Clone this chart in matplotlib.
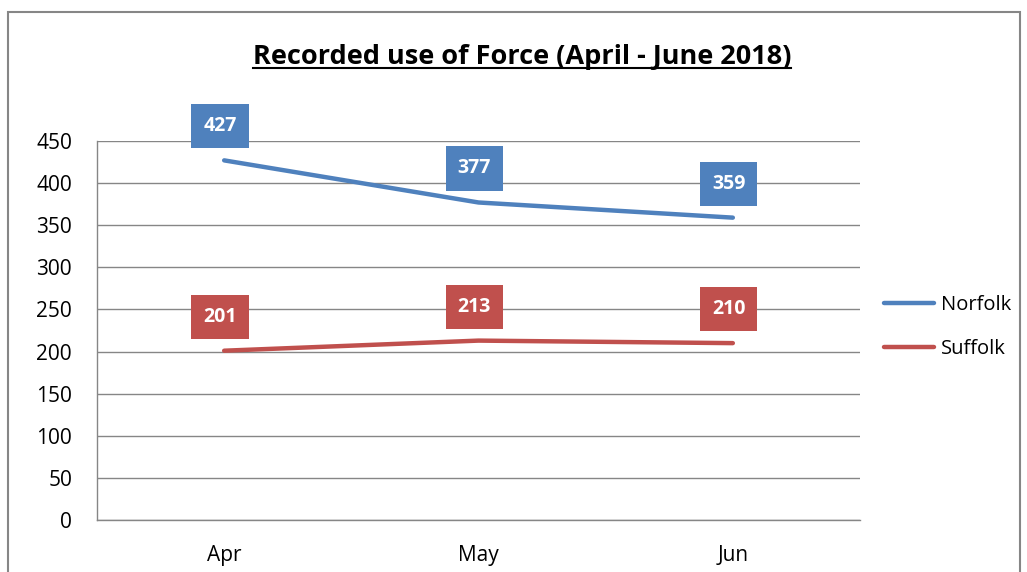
import matplotlib
matplotlib.use("Agg")
import matplotlib.pyplot as plt
from matplotlib.patches import Rectangle
from matplotlib.lines import Line2D

months = ["Apr", "May", "Jun"]
norfolk = [427, 377, 359]
suffolk = [201, 213, 210]
yticks = [0, 50, 100, 150, 200, 250, 300, 350, 400, 450]
title = "Recorded use of Force (April - June 2018)"

plt.rcParams['font.family'] = ['Open Sans', 'DejaVu Sans']

fig = plt.figure(figsize=(10.27, 5.72), dpi=100)
ax = fig.add_axes([97/1027, 1-520/572, (860-97)/1027, (520-141)/572])

blue = "#4F81BD"
red = "#C0504D"
x = list(range(len(months)))
ax.plot(x, norfolk, color=blue, lw=3.2, solid_capstyle='round', label="Norfolk", zorder=3)
ax.plot(x, suffolk, color=red, lw=3.2, solid_capstyle='round', label="Suffolk", zorder=3)

for xs, vals, c in [(x, norfolk, blue), (x, suffolk, red)]:
    for xi, v in zip(xs, vals):
        ax.annotate(str(v), (xi, v), xytext=(-3, 24.5), textcoords='offset points',
                    ha='center', va='center', color='white', fontsize=14, fontweight='bold',
                    bbox=dict(boxstyle='square,pad=0.62', fc=c, ec='none'), zorder=4)

ax.set_xlim(-0.5, 2.5)
ax.set_ylim(0, 450)
ax.set_yticks(yticks)
ax.set_xticks(x)
ax.set_xticklabels(months)
ax.tick_params(axis='y', length=0, pad=18, labelsize=15)
ax.tick_params(axis='x', length=0, pad=18, labelsize=15)
ax.grid(axis='y', color='#868686', lw=1)
ax.set_axisbelow(True)
for s in ['top', 'right']:
    ax.spines[s].set_visible(False)
for s in ['left', 'bottom']:
    ax.spines[s].set_color('#868686')
    ax.spines[s].set_linewidth(1)

leg = fig.legend(loc='center left', bbox_to_anchor=(866/1027, 1-327/572), frameon=False,
                 fontsize=14.5, handlelength=2.5, handletextpad=0.3, labelspacing=1.15)

t = fig.text(522/1027, 1-57/572, title, ha='center', va='center', fontsize=19.5, fontweight='bold')

fig.patches.append(Rectangle((8/1027, -0.05), (1020-8)/1027, (572-12)/572 + 0.05,
                             transform=fig.transFigure, fill=False, ec='#868686', lw=1.5))

fig.canvas.draw()
bb = t.get_window_extent().transformed(fig.transFigure.inverted())
fig.lines.append(Line2D([bb.x0, bb.x1], [bb.y0 + 0.004, bb.y0 + 0.004], transform=fig.transFigure,
                        color='black', lw=1.5))

fig.savefig("out.png", dpi=100)
